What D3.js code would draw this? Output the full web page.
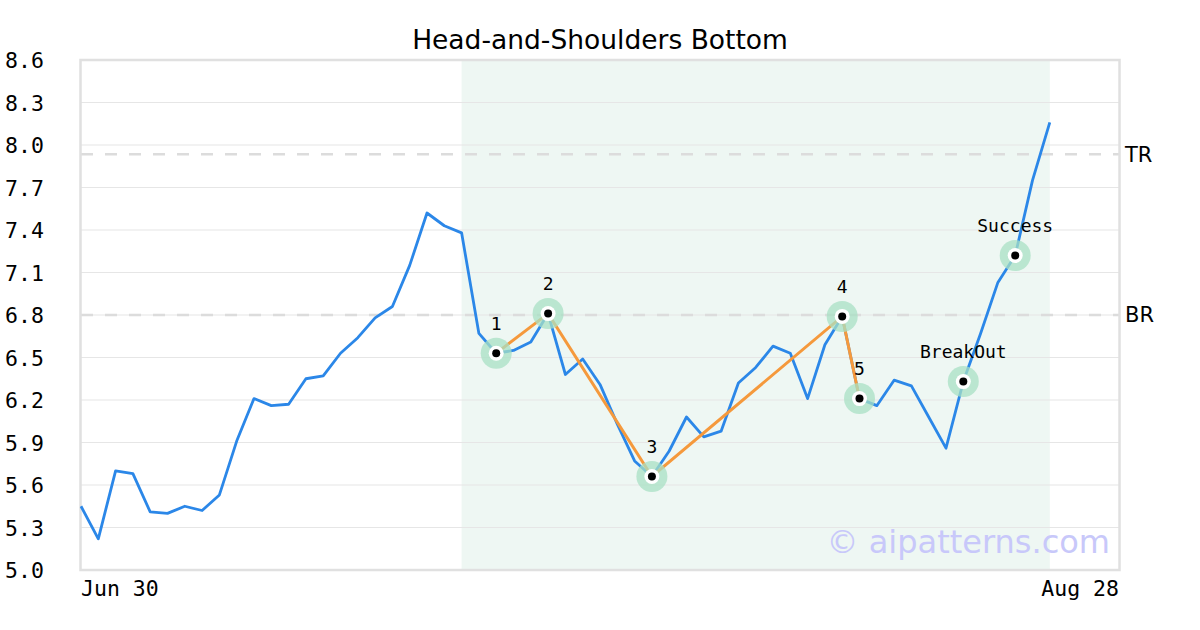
<!DOCTYPE html>
<html><head><meta charset="utf-8">
<script src="https://cdn.jsdelivr.net/npm/d3@7"></script>
<style>body{margin:0;background:#fff}svg{display:block}</style>
</head><body>
<svg id="c" width="1200" height="630"></svg>
<script>
const title = "Head-and-Shoulders Bottom";
const prices = [5.45,5.22,5.70,5.68,5.41,5.40,5.45,5.42,5.53,5.91,6.21,6.16,6.17,6.35,6.37,6.53,6.64,6.78,6.86,7.15,7.52,7.43,7.38,
  6.67,6.53,6.55,6.61,6.81,6.38,6.49,6.31,6.03,5.77,5.66,5.84,6.08,5.94,5.98,6.32,6.43,6.58,6.53,6.21,6.59,6.79,6.21,
  6.16,6.34,6.30,6.08,5.86,6.33,6.67,7.03,7.22,7.75,8.16];
const yTicks = [5.0,5.3,5.6,5.9,6.2,6.5,6.8,7.1,7.4,7.7,8.0,8.3,8.6];
const xDomain = [0, 60];
const xTickLabels = [{i:0,label:"Jun 30"},{i:60,label:"Aug 28"}];
const shadeRange = [22, 56];
const pivotIdx = [24, 27, 33, 44, 45];
const pivotLabels = ["1","2","3","4","5"];
const eventIdx = [51, 54];
const eventLabels = ["BreakOut","Success"];
const levels = [{name:"TR", value:7.935},{name:"BR", value:6.8}];

const svg = d3.select("#c");
const m = {l:81, r:1119, t:60, b:570};
const x = d3.scaleLinear().domain(xDomain).range([m.l, m.r]);
const y = d3.scaleLinear().domain([5.0, 8.6]).range([m.b, m.t]);
const mono = "'DejaVu Sans Mono', monospace";
const sans = "'DejaVu Sans', sans-serif";

// shaded region
svg.append("rect").attr("x", x(shadeRange[0])).attr("y", m.t)
  .attr("width", x(shadeRange[1]) - x(shadeRange[0])).attr("height", m.b - m.t)
  .attr("fill", "#eef7f3");

// gridlines
svg.append("g").selectAll("line").data(yTicks.slice(1, -1)).join("line")
  .attr("x1", m.l).attr("x2", m.r).attr("y1", d => y(d)).attr("y2", d => y(d))
  .attr("stroke", "#e6e6e6").attr("stroke-width", 1.2);

// level lines
svg.append("g").selectAll("line").data(levels).join("line")
  .attr("x1", m.l).attr("x2", m.r).attr("y1", d => y(d.value)).attr("y2", d => y(d.value))
  .attr("stroke", "#dcdcdc").attr("stroke-width", 2.5).attr("stroke-dasharray", "12,12");
svg.append("g").selectAll("text").data(levels).join("text")
  .attr("x", m.r + 6).attr("y", d => y(d.value)).attr("dy", "0.35em")
  .attr("font-family", sans).attr("font-size", 21).attr("fill", "#000").text(d => d.name);

// frame
svg.append("rect").attr("x", m.l - 0.5).attr("y", m.t).attr("width", m.r - m.l + 1).attr("height", m.b - m.t)
  .attr("fill", "none").attr("stroke", "#e0e0e0").attr("stroke-width", 2.5);

// y axis labels
const yAxis = d3.axisLeft(y).tickValues(yTicks).tickFormat(d3.format(".1f")).tickSize(0);
const ya = svg.append("g").attr("transform", `translate(5,0)`).call(yAxis);
ya.select(".domain").remove();
ya.selectAll("text").attr("text-anchor", "start").attr("x", 0).attr("dy", "0.35em")
  .attr("font-family", mono).attr("font-size", 21.5).attr("fill", "#000");

// x labels
svg.append("g").selectAll("text").data(xTickLabels).join("text")
  .attr("x", d => x(d.i)).attr("y", 588).attr("dy", "0.35em")
  .attr("text-anchor", (d, i) => i === 0 ? "start" : "end")
  .attr("font-family", mono).attr("font-size", 21.5).attr("fill", "#000").text(d => d.label);

// watermark
svg.append("text").attr("x", 1110).attr("y", 553).attr("text-anchor", "end")
  .attr("font-family", sans).attr("font-size", 32).attr("fill", "#c8c8fa").text("© aipatterns.com");

// price line
const line = d3.line().x((d, i) => x(i)).y(d => y(d));
svg.append("path").datum(prices).attr("d", line).attr("fill", "none")
  .attr("stroke", "#2b87e8").attr("stroke-width", 2.8).attr("stroke-linejoin", "round");

// pattern line
const pLine = d3.line().x(i => x(i)).y(i => y(prices[i]));
svg.append("path").datum(pivotIdx).attr("d", pLine).attr("fill", "none")
  .attr("stroke", "#f5993c").attr("stroke-width", 3);

// markers
const marks = pivotIdx.map((i, k) => ({i, label: pivotLabels[k]}))
  .concat(eventIdx.map((i, k) => ({i, label: eventLabels[k]})));
const mg = svg.append("g").selectAll("g").data(marks).join("g")
  .attr("transform", d => `translate(${x(d.i)},${y(prices[d.i])})`);
mg.append("circle").attr("r", 15.5).attr("fill", "#a8e0c4").attr("fill-opacity", 0.75);
mg.append("circle").attr("r", 7.5).attr("fill", "#fff");
mg.append("circle").attr("r", 4).attr("fill", "#000");
mg.append("text").attr("y", -30).attr("dy", "0.35em").attr("text-anchor", "middle")
  .attr("font-family", mono).attr("font-size", 18).attr("fill", "#000").text(d => d.label);

// title
svg.append("text").attr("x", 600).attr("y", 49).attr("text-anchor", "middle")
  .attr("font-family", sans).attr("font-size", 26.5).attr("fill", "#000").text(title);
</script>
</body></html>
